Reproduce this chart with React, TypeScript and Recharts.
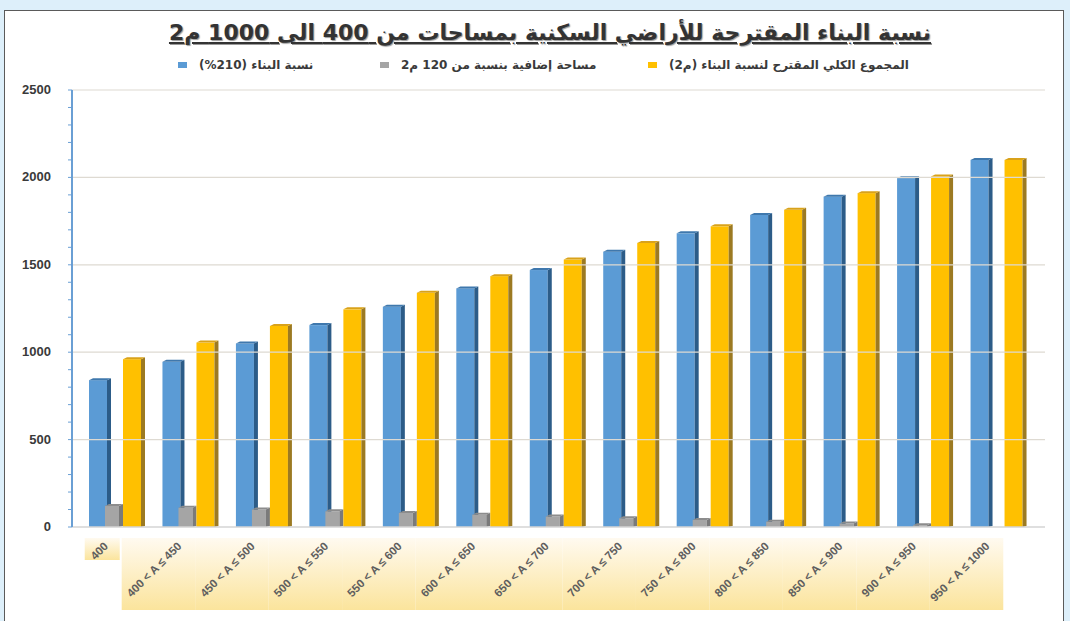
import React from "react"
import { Bar, BarChart, ReferenceLine, XAxis, YAxis } from "recharts"

// plot area categories (area ranges in m2)
const categories = [
  "400",
  "400 < A ≤ 450",
  "450 < A ≤ 500",
  "500 < A ≤ 550",
  "550 < A ≤ 600",
  "600 < A ≤ 650",
  "650 < A ≤ 700",
  "700 < A ≤ 750",
  "750 < A ≤ 800",
  "800 < A ≤ 850",
  "850 < A ≤ 900",
  "900 < A ≤ 950",
  "950 < A ≤ 1000",
]

const buildingRatio = [840, 945, 1050, 1155, 1260, 1365, 1470, 1575, 1680, 1785, 1890, 1995, 2100]
const extraArea = [120, 110, 100, 90, 80, 70, 60, 50, 40, 30, 20, 10, 0]
const proposedTotal = [960, 1055, 1150, 1245, 1340, 1435, 1530, 1625, 1720, 1815, 1910, 2005, 2100]

const yTicks = [
  0, 100, 200, 300, 400, 500, 600, 700, 800, 900, 1000, 1100, 1200, 1300, 1400, 1500, 1600, 1700,
  1800, 1900, 2000, 2100, 2200, 2300, 2400, 2500,
]
const yLabels = [0, 500, 1000, 1500, 2000, 2500]

const title = "نسبة البناء المقترحة للأراضي السكنية بمساحات من 400 الى 1000 م2"

const legendItems = [
  { label: "نسبة البناء (210%)", color: "#5b9bd5" },
  { label: "مساحة إضافية بنسبة من 120 م2", color: "#a5a5a5" },
  { label: "المجموع الكلي المقترح لنسبة البناء (م2)", color: "#ffc000" },
]
const legendLeft = [178, 380, 648]

const data = categories.map((name, i) => ({
  name,
  ratio: buildingRatio[i],
  extra: extraArea[i],
  total: proposedTotal[i],
}))

const BAND = 73.5

function Bar3D(props: any) {
  const { x, y, width, height, face, side, top, shiftLeft = 0 } = props
  if (!height || height <= 0) return null
  const bx = x - shiftLeft
  const w = width + shiftLeft
  const d = 4
  return (
    <g>
      <rect x={bx} y={y} width={w - d} height={height} fill={face} />
      <polygon
        points={`${bx + w - d},${y} ${bx + w},${y - 2} ${bx + w},${y + height - 1} ${bx + w - d},${y + height}`}
        fill={side}
      />
      <polygon points={`${bx},${y} ${bx + d},${y - 2} ${bx + w},${y - 2} ${bx + w - d},${y}`} fill={top} />
    </g>
  )
}

function CategoryTick(props: any) {
  const { x, y, payload, index } = props
  const top = y + 3
  return (
    <g>
      <defs>
        <linearGradient id={`band${index}`} x1="0" y1="0" x2="0" y2="1">
          <stop offset="0%" stopColor="#fffaf0" />
          <stop offset="100%" stopColor="#fbe49c" />
        </linearGradient>
      </defs>
      {index === 0 ? (
        <rect x={x - 32} y={top} width={35} height={22} fill={`url(#band${index})`} />
      ) : (
        <rect x={x - BAND + 5} y={top} width={BAND} height={72} fill={`url(#band${index})`} />
      )}
      <text
        x={x - 8}
        y={top + 9}
        textAnchor="end"
        transform={`rotate(-45 ${x - 8} ${top + 9})`}
        fontSize={11.5}
        fontWeight="bold"
        fill="#5e5e5e"
        fontFamily="Liberation Sans, Arial, sans-serif"
      >
        {payload.value}
      </text>
    </g>
  )
}

function ValueTick(props: any) {
  const { x, y, payload } = props
  if (!yLabels.includes(payload.value)) return null
  return (
    <text
      x={x - 15}
      y={y + 4}
      textAnchor="end"
      fontSize={13}
      fontWeight="bold"
      fill="#3a3a3a"
      fontFamily="Liberation Sans, Arial, sans-serif"
    >
      {payload.value}
    </text>
  )
}

export default function App() {
  return (
    <div
      style={{
        position: "absolute",
        left: 0,
        top: 0,
        width: 1070,
        height: 621,
        background: "#ddeffa",
        overflow: "hidden",
      }}
    >
      <div
        style={{
          position: "absolute",
          left: 4,
          top: 10,
          width: 1058,
          height: 620,
          background: "#ffffff",
          border: "1.5px solid #5a5a5a",
        }}
      />
      <div
        style={{
          position: "absolute",
          left: 0,
          top: 20,
          width: 1100,
          textAlign: "center",
          direction: "rtl",
          fontFamily: "DejaVu Sans, sans-serif",
          fontWeight: "bold",
          fontSize: 22,
          color: "#333333",
          textDecoration: "underline",
          textShadow: "1px 1px 1px #9a9a9a",
        }}
      >
        {title}
      </div>
      {legendItems.map((item, i) => (
        <div
          key={item.label}
          style={{
            position: "absolute",
            left: legendLeft[i],
            top: 58,
            display: "flex",
            alignItems: "center",
            gap: 12,
            fontFamily: "DejaVu Sans, sans-serif",
            fontWeight: "bold",
            fontSize: 12,
            color: "#3a3a3a",
            whiteSpace: "nowrap",
          }}
        >
          <span style={{ width: 9, height: 6, background: item.color, display: "inline-block" }} />
          <span style={{ direction: "rtl", unicodeBidi: "isolate" }}>{item.label}</span>
        </div>
      ))}
      <div style={{ position: "absolute", left: 0, top: 0 }}>
        <BarChart
          width={1070}
          height={621}
          data={data}
          margin={{ top: 90, right: 25, left: 0, bottom: 4 }}
          barGap={0}
          barCategoryGap={0}
        >
          {yLabels.slice(1).map((v) => (
            <ReferenceLine key={v} y={v} stroke="#dedad2" strokeWidth={1.2} />
          ))}
          <XAxis
            dataKey="name"
            height={90}
            interval={0}
            tickLine={false}
            axisLine={{ stroke: "#d4d4d4", strokeWidth: 1.5 }}
            padding={{ left: 8, right: 10 }}
            tick={<CategoryTick />}
          />
          <YAxis
            width={72}
            domain={[0, 2500]}
            ticks={yTicks}
            interval={0}
            tickSize={4}
            tickLine={{ stroke: "#6a9fd4" }}
            axisLine={{ stroke: "#6a9fd4", strokeWidth: 2 }}
            tick={<ValueTick />}
          />
          <Bar
            dataKey="ratio"
            barSize={22}
            isAnimationActive={false}
            shape={(p: any) => <Bar3D {...p} face="#5b9bd5" side="#2c5c88" top="#3f78ad" />}
          />
          <Bar
            dataKey="extra"
            barSize={12}
            isAnimationActive={false}
            shape={(p: any) => <Bar3D {...p} face="#a5a5a5" side="#7a7a7a" top="#8c8c8c" shiftLeft={6} />}
          />
          <Bar
            dataKey="total"
            barSize={22}
            isAnimationActive={false}
            shape={(p: any) => <Bar3D {...p} face="#ffc000" side="#9c7a22" top="#d9a21a" />}
          />
        </BarChart>
      </div>
    </div>
  )
}
